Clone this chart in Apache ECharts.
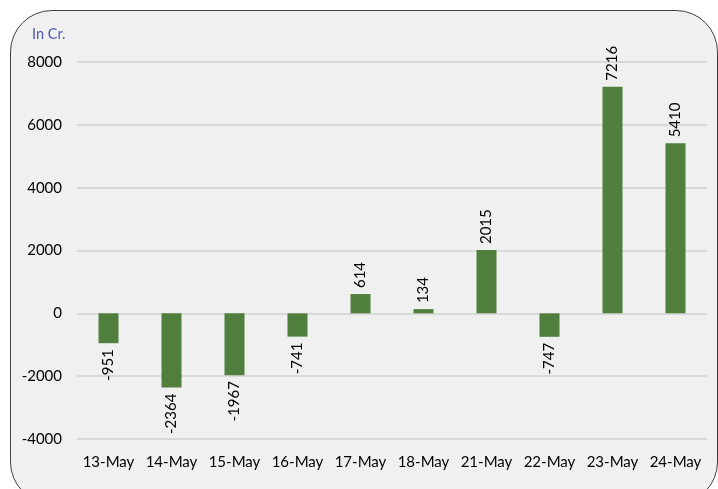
<!DOCTYPE html>
<html>
<head>
<meta charset="utf-8">
<script src="https://cdn.jsdelivr.net/npm/echarts@6/dist/echarts.min.js"></script>
<style>
  html, body { margin: 0; padding: 0; background: #ffffff; }
  #wrap { position: absolute; left: 10px; top: 10px; width: 706px; height: 492px;
          background: #f0f0f0; border: 1px solid #404040; border-radius: 42px; }
  #chart { position: absolute; left: 0; top: 0; width: 718px; height: 489px; }
</style>
</head>
<body>
<div id="wrap"></div>
<div id="chart"></div>
<script>
var days = ['13-May','14-May','15-May','16-May','17-May','18-May','21-May','22-May','23-May','24-May'];
var netValues = [-951, -2364, -1967, -741, 614, 134, 2015, -747, 7216, 5410];

var chart = echarts.init(document.getElementById('chart'));

var barData = netValues.map(function (v) {
  return {
    value: v,
    label: v < 0 ? { position: 'bottom', align: 'right' } : { position: 'top', align: 'left' }
  };
});

var option = {
  animation: false,
  backgroundColor: 'transparent',
  textStyle: { fontFamily: 'Lato' },
  title: {
    text: 'In Cr.',
    left: 27,
    top: 22,
    textStyle: { color: '#5058b0', fontSize: 14.5, fontWeight: 'normal', fontFamily: 'Lato' }
  },
  grid: { left: 77, right: 11, top: 62, bottom: 50, containLabel: false },
  xAxis: {
    type: 'category',
    data: days,
    axisLine: { show: false },
    axisTick: { show: false },
    axisLabel: { color: '#000000', fontSize: 15, margin: 16, interval: 0 }
  },
  yAxis: {
    type: 'value',
    min: -4000,
    max: 8000,
    interval: 2000,
    axisLine: { show: false },
    axisTick: { show: false },
    axisLabel: { color: '#000000', fontSize: 15, margin: 15, formatter: function (v) { return String(v); } },
    splitLine: { lineStyle: { color: '#d9d9d9', width: 2 } }
  },
  series: [{
    type: 'bar',
    data: barData,
    barWidth: 20,
    itemStyle: { color: '#507e3c' },
    label: {
      show: true,
      rotate: 90,
      verticalAlign: 'middle',
      distance: 6,
      color: '#000000',
      fontSize: 15
    }
  }]
};

chart.setOption(option);
</script>
</body>
</html>
